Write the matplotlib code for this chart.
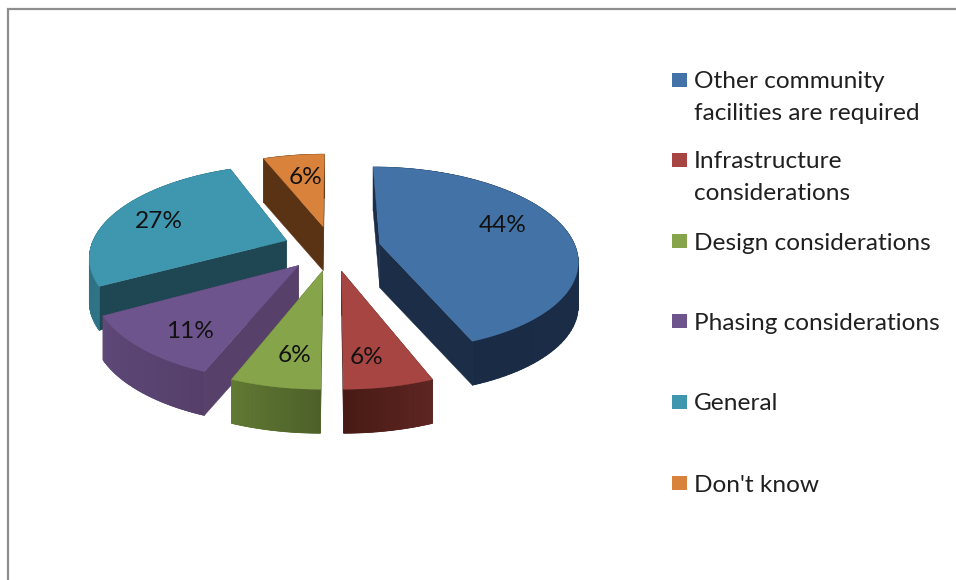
import numpy as np
import matplotlib
matplotlib.use("Agg")
import matplotlib.pyplot as plt
from matplotlib.patches import Polygon, Rectangle
from matplotlib.collections import PolyCollection

plt.rcParams['font.family'] = ['Lato', 'DejaVu Sans']

categories = ["Other community\nfacilities are required", "Infrastructure\nconsiderations",
              "Design considerations", "Phasing considerations", "General", "Don't know"]
values = [44, 6, 6, 11, 27, 6]

top_colors = ["#4372A7", "#A64542", "#86A44A", "#6E548D", "#3F97AF", "#D9823B"]
wall_start = ["#1C2F4A", "#5F2623", "#4D6029", "#553F6A", "#2F7487", "#5A3314"]
wall_end = ["#1A2B45", "#481A15", "#617A34", "#5F4979", "#2A6A7C", "#5A3314"]
cut_colors = ["#1B2D47", "#4A1B17", "#4D6029", "#57406A", "#1F4753", "#5A3314"]
label_xy = [(503, 225), (367, 357), (295, 356), (190, 331), (159, 221), (306, 177)]
legend_y = [80, 160, 241, 321, 402, 483]
draw_order = [5, 4, 0, 3, 2, 1]

CX, CY, RX, RY, PERSP, EXPLODE, DEPTH = 332, 248, 196, 90.5, 0.162, 0.25, 44


def project(U, V, drop=0.0):
    s = 1.0 / (1.0 - PERSP * V)
    return CX + RX * U * s, CY + RY * V * s + drop


def mix(c1, c2, t):
    a, b = np.array(matplotlib.colors.to_rgb(c1)), np.array(matplotlib.colors.to_rgb(c2))
    return tuple(a + (b - a) * t)


fig = plt.figure(figsize=(9.56, 5.8), dpi=100, facecolor="white")
ax = fig.add_axes([0, 0, 1, 1])
ax.set_xlim(0, 956)
ax.set_ylim(580, 0)
ax.axis("off")

ax.plot([8, 8, 956], [580, 9, 9], color="#8E8E8E", lw=1.6, solid_joinstyle="miter")

total = sum(values)
edges = np.cumsum([0] + values) / total * 2 * np.pi

for i in draw_order:
    base_z = 2 + draw_order.index(i) * 4
    t0, t1 = edges[i], edges[i + 1]
    mid = (t0 + t1) / 2
    ox, oy = EXPLODE * np.sin(mid), -EXPLODE * np.cos(mid)
    ts = np.linspace(t0, t1, 80)
    U = ox + np.sin(ts)
    V = oy - np.cos(ts)
    ax_, ay_ = project(ox, oy)
    px, py = project(U, V)
    bx_, by_ = project(ox, oy, DEPTH)
    qx, qy = project(U, V, DEPTH)
    # straight cut walls
    for k in (0, -1):
        ax.add_patch(Polygon([(ax_, ay_), (px[k], py[k]), (qx[k], qy[k]), (bx_, by_)],
                             closed=True, fc=cut_colors[i], ec=cut_colors[i], lw=0.3, zorder=base_z))
    # solid underlay of the outer wall, so the shading strips show no seams
    ax.add_patch(Polygon(np.column_stack([np.r_[px, qx[::-1]], np.r_[py, qy[::-1]]]), closed=True,
                         fc=mix(wall_start[i], wall_end[i], 0.5), ec="none", zorder=base_z + 1))
    verts, cols = [], []
    for k in range(len(ts) - 1):
        verts.append([(px[k], py[k]), (px[k + 1], py[k + 1]), (qx[k + 1], qy[k + 1]), (qx[k], qy[k])])
        cols.append(mix(wall_start[i], wall_end[i], k / (len(ts) - 2)))
    ax.add_collection(PolyCollection(verts, facecolors=cols, edgecolors=cols, linewidths=0.5,
                                     zorder=base_z + 2))
    # top face
    ax.add_patch(Polygon(np.column_stack([np.r_[ax_, px], np.r_[ay_, py]]), closed=True,
                         fc=top_colors[i], ec=top_colors[i], lw=0.3, zorder=base_z + 3))
    ax.text(label_xy[i][0], label_xy[i][1], f"{values[i]}%", ha="center", va="center",
            fontsize=17.6, color="#111111", zorder=60)

for name, y, col in zip(categories, legend_y, top_colors):
    ax.add_patch(Rectangle((672, y - 7), 15, 14, fc=col, ec="none"))
    for j, line in enumerate(name.split("\n")):
        ax.text(694, y + 2 + j * 32, line, ha="left", va="center", fontsize=17.6, color="#202020")

fig.savefig("out.png", dpi=100)
